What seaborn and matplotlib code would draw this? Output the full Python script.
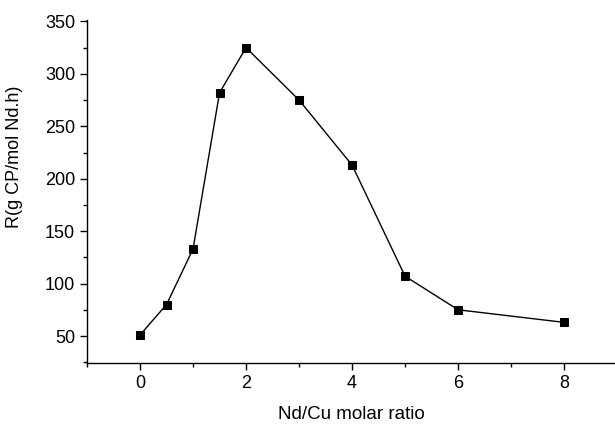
import matplotlib
matplotlib.use("Agg")
import matplotlib.pyplot as plt
import seaborn as sns
import pandas as pd
from matplotlib.ticker import MultipleLocator

ratio = [0, 0.5, 1, 1.5, 2, 3, 4, 5, 6, 8]
activity = [51, 80, 133, 282, 325, 275, 213, 107, 75, 63]

sns.set_style("ticks")
plt.rcParams['font.family'] = ['Liberation Sans', 'DejaVu Sans']
plt.rcParams['text.color'] = 'black'
plt.rcParams['axes.labelcolor'] = 'black'

df = pd.DataFrame({"x": ratio, "y": activity})
fig = plt.figure(figsize=(6.15, 4.25), dpi=100)
ax = fig.add_axes([0.1415, 0.146, 0.8585, 0.806])
sns.lineplot(data=df, x="x", y="y", ax=ax, color="black", linewidth=1.0,
             marker="s", markersize=5.5, markeredgecolor="black", markerfacecolor="black")

ax.set_xlim(-1.0, 8.96)
ax.set_ylim(24.3, 351)
ax.xaxis.set_major_locator(MultipleLocator(2))
ax.xaxis.set_minor_locator(MultipleLocator(1))
ax.yaxis.set_major_locator(MultipleLocator(50))
ax.yaxis.set_minor_locator(MultipleLocator(25))
ax.tick_params(axis="both", which="major", direction="out", length=5, width=1, labelsize=13, colors="black")
ax.tick_params(axis="both", which="minor", direction="out", length=3, width=1, colors="black")
ax.set_xlabel("Nd/Cu molar ratio", fontsize=13.5, color="black")
ax.set_ylabel("R(g CP/mol Nd.h)", fontsize=13, color="black")
ax.xaxis.set_label_coords(0.5, -0.125)
ax.yaxis.set_label_coords(-0.121, 0.603)
for s in ["top", "right"]:
    ax.spines[s].set_visible(False)
for s in ["left", "bottom"]:
    ax.spines[s].set_linewidth(1.0)
    ax.spines[s].set_color("black")

fig.savefig("out.png", dpi=100)
